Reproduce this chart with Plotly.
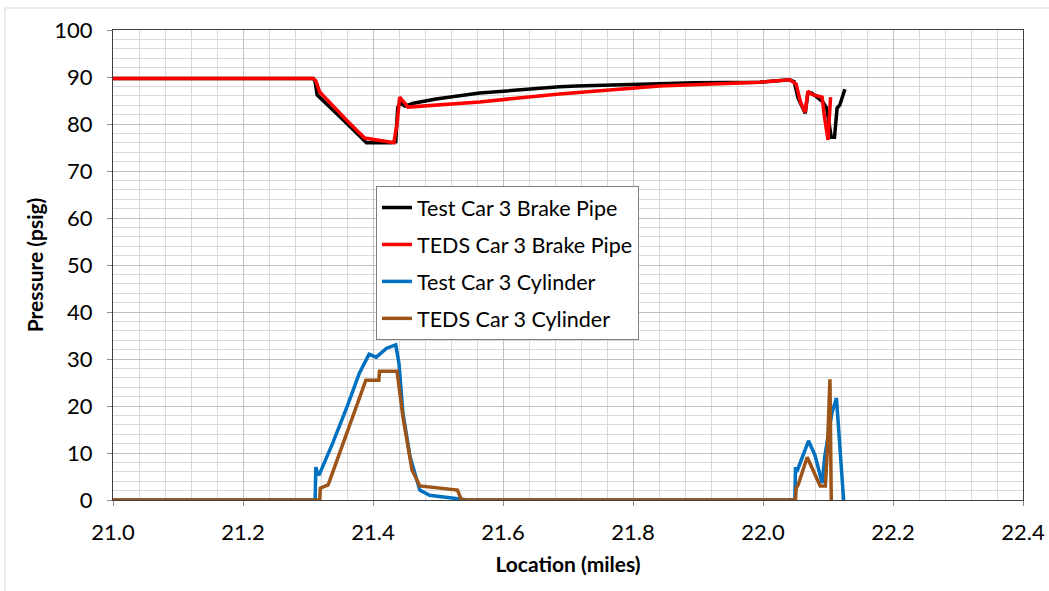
import plotly.graph_objects as go

# Test Car 3 Brake Pipe (black)
bp_test_x = [21.0, 21.308, 21.311, 21.314, 21.354, 21.390, 21.397, 21.427, 21.435, 21.438,
             21.442, 21.449, 21.462, 21.497, 21.564, 21.616, 21.687, 21.714, 21.841, 21.894,
             21.995, 22.041, 22.048, 22.054, 22.065, 22.069, 22.075, 22.084, 22.092,
             22.098, 22.105, 22.110, 22.114, 22.118, 22.121, 22.126]
bp_test_y = [89.7, 89.7, 89.0, 86.2, 80.9, 76.0, 76.0, 76.0, 76.2, 83.5,
             84.5, 83.8, 84.4, 85.3, 86.6, 87.2, 87.9, 88.1, 88.7, 88.8,
             88.9, 89.4, 89.0, 85.5, 82.3, 86.5, 86.6, 85.7, 84.7,
             83.4, 77.2, 77.2, 83.4, 84.0, 85.5, 87.4]

# TEDS Car 3 Brake Pipe (red)
bp_teds_x = [21.0, 21.308, 21.312, 21.318, 21.358, 21.387, 21.397, 21.432, 21.437, 21.441,
             21.454, 21.497, 21.564, 21.687, 21.714, 21.841, 21.995, 22.041, 22.051,
             22.058, 22.065, 22.069, 22.075, 22.084, 22.091, 22.094, 22.100, 22.104]
bp_teds_y = [89.7, 89.7, 89.2, 86.8, 81.0, 77.0, 76.8, 76.0, 80.0, 85.7,
             83.6, 84.1, 84.7, 86.4, 86.7, 88.1, 88.9, 89.4, 88.5,
             84.5, 82.5, 87.0, 86.3, 86.0, 85.7, 82.0, 76.6, 85.7]

# Test Car 3 Cylinder (blue)
cyl_test_x = [21.0, 21.311, 21.312, 21.314, 21.317, 21.338, 21.360, 21.379, 21.394, 21.405,
              21.421, 21.435, 21.440, 21.446, 21.457, 21.472, 21.487, 21.514, 21.546,
              22.049, 22.050, 22.052, 22.070, 22.080, 22.091, 22.095, 22.106, 22.113,
              22.119, 22.124]
cyl_test_y = [0, 0, 7.0, 6.0, 5.3, 12.1, 19.8, 27.0, 31.0, 30.4,
              32.3, 33.0, 29.0, 18.5, 9.2, 2.1, 1.0, 0.6, 0,
              0, 7.0, 6.0, 12.6, 9.5, 3.6, 9.2, 18.5, 21.7,
              8.5, 0]

# TEDS Car 3 Cylinder (brown)
cyl_teds_x = [21.0, 21.318, 21.319, 21.331, 21.389, 21.409, 21.410, 21.437, 21.446, 21.460,
              21.472, 21.530, 21.536, 22.050, 22.051, 22.054, 22.068, 22.088, 22.096,
              22.099, 22.103, 22.105]
cyl_teds_y = [0, 0, 2.5, 3.2, 25.5, 25.5, 27.4, 27.4, 17.7, 6.4,
              3.0, 2.1, 0, 0, 2.5, 3.2, 9.1, 3.0, 3.0,
              10.6, 25.7, 0]

series = [
    ("Test Car 3 Brake Pipe", bp_test_x, bp_test_y, "#000000"),
    ("TEDS Car 3 Brake Pipe", bp_teds_x, bp_teds_y, "#ff0000"),
    ("Test Car 3 Cylinder", cyl_test_x, cyl_test_y, "#0070c0"),
    ("TEDS Car 3 Cylinder", cyl_teds_x, cyl_teds_y, "#9c5418"),
]

fig = go.Figure()
for i, (name, xs, ys, color) in enumerate(series):
    fig.add_trace(go.Scatter(x=xs, y=ys, mode="lines", name=name, legendgroup=str(i),
                             line=dict(color=color, width=3.5)))

font_family = "Lato, 'Open Sans', sans-serif"

fig.update_layout(
    width=1049, height=591,
    margin=dict(l=113, r=26, t=30, b=91),
    paper_bgcolor="white", plot_bgcolor="white",
    font=dict(family=font_family, size=22, color="#000000"),
    showlegend=True,
    legend=dict(x=0.289, y=0.668, xanchor="left", yanchor="top",
                bgcolor="white", bordercolor="#7f7f7f", borderwidth=1,
                font=dict(size=21.5), tracegroupgap=6, itemwidth=30),
)

fig.update_xaxes(
    range=[21.0, 22.4], dtick=0.2, tickformat=".1f", automargin=False,
    showgrid=True, gridcolor="#c0c0c0", gridwidth=1,
    minor=dict(dtick=0.04, showgrid=True, gridcolor="#d9d9d9", gridwidth=1),
    showline=True, linecolor="#404040", linewidth=1, mirror=True,
    ticks="outside", ticklen=5, tickcolor="#8c8c8c", ticklabelstandoff=8,
    zeroline=False,
    title=dict(text="<b>Location (miles)</b>", font=dict(size=21), standoff=12),
)
fig.update_yaxes(
    range=[0, 100], dtick=10, automargin=False,
    showgrid=True, gridcolor="#c0c0c0", gridwidth=1,
    minor=dict(dtick=2, showgrid=True, gridcolor="#d9d9d9", gridwidth=1),
    showline=True, linecolor="#404040", linewidth=1, mirror=True,
    ticks="outside", ticklen=5, tickcolor="#8c8c8c", ticklabelstandoff=10,
    zeroline=False,
    title=dict(text="<b>Pressure (psig)</b>", font=dict(size=21), standoff=4),
)

# outer chart border
fig.add_shape(type="rect", xref="paper", yref="paper",
              x0=-0.1187, x1=1.05, y0=-0.25, y1=1.0468,
              line=dict(color="#d9d9d9", width=1), layer="below")

# drop the page's default body margin so the figure fills the window
fig.write_html("out.html", config={"displayModeBar": False},
               post_script="document.body.style.margin='0px';")
